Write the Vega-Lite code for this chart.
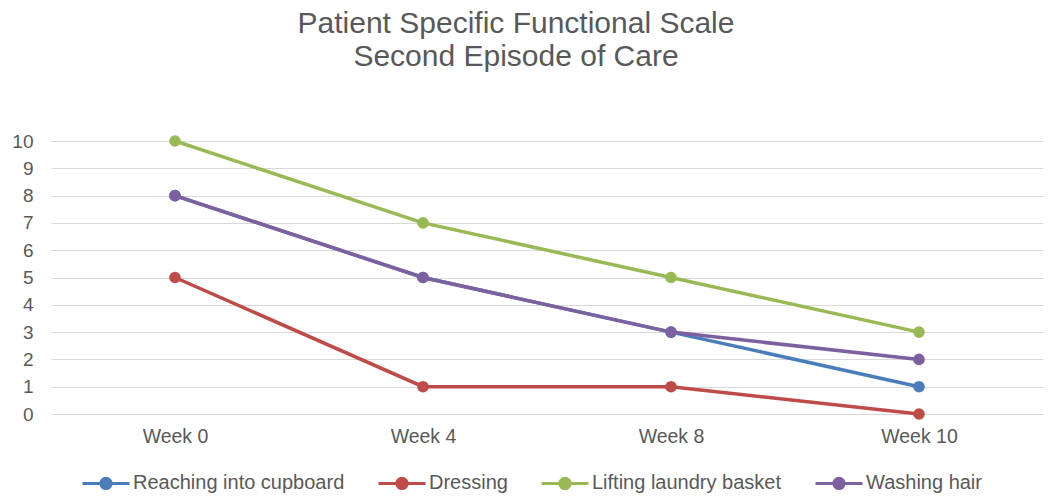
{
  "$schema": "https://vega.github.io/schema/vega-lite/v6.json",
  "width": 992,
  "height": 273,
  "autosize": "none",
  "padding": {"left": 51, "top": 141, "right": 9, "bottom": 83},
  "background": "white",
  "config": {
    "font": "Liberation Sans",
    "view": {"stroke": null}
  },
  "title": {
    "text": ["Patient Specific Functional Scale", "Second Episode of Care"],
    "fontSize": 30,
    "fontWeight": "normal",
    "color": "#595959",
    "lineHeight": 33,
    "anchor": "middle",
    "frame": "group",
    "offset": 60,
    "dx": -31
  },
  "data": {
    "values": [
      {"week": "Week 0", "task": "Reaching into cupboard", "score": 8},
      {"week": "Week 4", "task": "Reaching into cupboard", "score": 5},
      {"week": "Week 8", "task": "Reaching into cupboard", "score": 3},
      {"week": "Week 10", "task": "Reaching into cupboard", "score": 1},
      {"week": "Week 0", "task": "Dressing", "score": 5},
      {"week": "Week 4", "task": "Dressing", "score": 1},
      {"week": "Week 8", "task": "Dressing", "score": 1},
      {"week": "Week 10", "task": "Dressing", "score": 0},
      {"week": "Week 0", "task": "Lifting laundry basket", "score": 10},
      {"week": "Week 4", "task": "Lifting laundry basket", "score": 7},
      {"week": "Week 8", "task": "Lifting laundry basket", "score": 5},
      {"week": "Week 10", "task": "Lifting laundry basket", "score": 3},
      {"week": "Week 0", "task": "Washing hair", "score": 8},
      {"week": "Week 4", "task": "Washing hair", "score": 5},
      {"week": "Week 8", "task": "Washing hair", "score": 3},
      {"week": "Week 10", "task": "Washing hair", "score": 2}
    ]
  },
  "mark": {
    "type": "line",
    "strokeWidth": 3.5,
    "point": {"filled": true, "size": 135}
  },
  "encoding": {
    "x": {
      "field": "week",
      "type": "nominal",
      "sort": ["Week 0", "Week 4", "Week 8", "Week 10"],
      "scale": {"type": "point", "padding": 0.5},
      "axis": {
        "title": null,
        "labelAngle": 0,
        "labelFontSize": 19.5,
        "labelColor": "#595959",
        "labelPadding": 13,
        "ticks": false,
        "domain": false,
        "grid": false
      }
    },
    "y": {
      "field": "score",
      "type": "quantitative",
      "scale": {"domain": [0, 10], "nice": false},
      "axis": {
        "title": null,
        "values": [0, 1, 2, 3, 4, 5, 6, 7, 8, 9, 10],
        "labelFontSize": 19,
        "labelColor": "#595959",
        "labelPadding": 18,
        "ticks": false,
        "domain": false,
        "gridColor": "#d9d9d9",
        "gridWidth": 1
      }
    },
    "color": {
      "field": "task",
      "type": "nominal",
      "sort": ["Reaching into cupboard", "Dressing", "Lifting laundry basket", "Washing hair"],
      "scale": {
        "domain": ["Reaching into cupboard", "Dressing", "Lifting laundry basket", "Washing hair"],
        "range": ["#4A7EBB", "#BE4B48", "#98B954", "#7D60A0"]
      },
      "legend": {
        "title": null,
        "orient": "none",
        "direction": "horizontal",
        "legendX": 30,
        "legendY": 317,
        "columns": 4,
        "columnPadding": 27,
        "labelFontSize": 20,
        "labelLimit": 400,
        "labelColor": "#595959",
        "labelOffset": 2,
        "symbolType": "M-1,0L1,0M0.22,0A0.22,0.22,0,1,1,-0.22,0A0.22,0.22,0,1,1,0.22,0Z",
        "symbolSize": 2209,
        "symbolStrokeWidth": 3,
        "encode": {
          "symbols": {
            "update": {
              "fill": {"scale": "color", "field": "value"},
              "stroke": {"scale": "color", "field": "value"},
              "strokeWidth": {"value": 3},
              "opacity": {"value": 1}
            }
          }
        }
      }
    }
  }
}
